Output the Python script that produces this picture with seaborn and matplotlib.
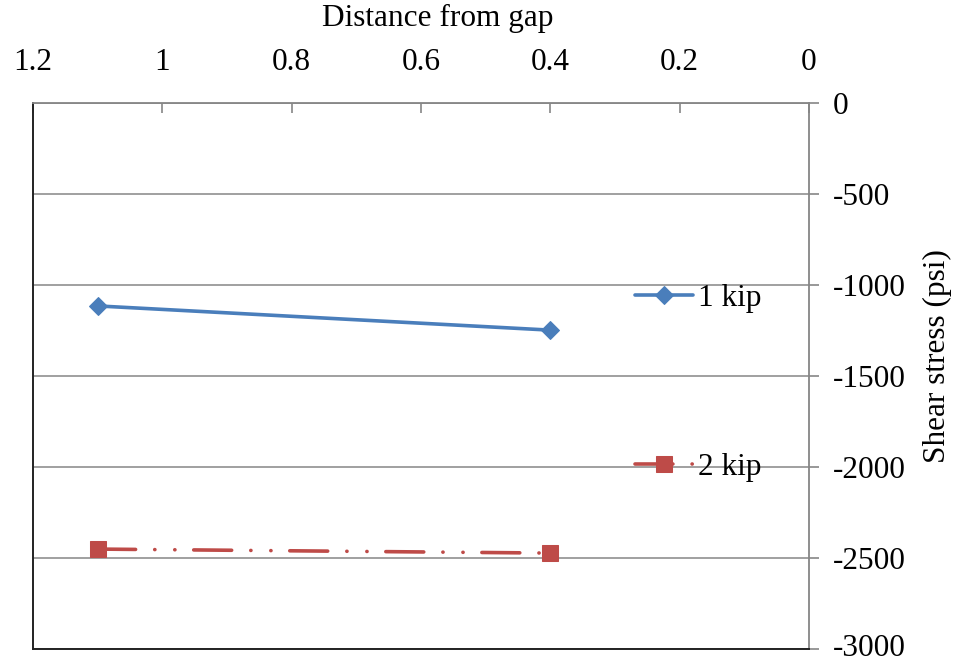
import matplotlib
matplotlib.use("Agg")
import matplotlib.pyplot as plt
import matplotlib.transforms as mtransforms
import seaborn as sns
import pandas as pd

# Data
distance = [1.1, 0.4]
stress_1kip = [-1115, -1248]
stress_2kip = [-2451, -2473]
series_names = ["1 kip", "2 kip"]
x_ticks = [1.2, 1.0, 0.8, 0.6, 0.4, 0.2, 0.0]
x_tick_labels = ["1.2", "1", "0.8", "0.6", "0.4", "0.2", "0"]
y_ticks = [0, -500, -1000, -1500, -2000, -2500, -3000]

sns.set_theme(style="white")
plt.rcParams["font.family"] = ["Liberation Serif", "DejaVu Serif"]
plt.rcParams["text.color"] = "black"
plt.rcParams["axes.labelcolor"] = "black"
plt.rcParams["xtick.labelcolor"] = "black"
plt.rcParams["ytick.labelcolor"] = "black"

df = pd.DataFrame({
    "distance": distance * 2,
    "stress": stress_1kip + stress_2kip,
    "series": [series_names[0]] * 2 + [series_names[1]] * 2,
})

fig = plt.figure(figsize=(9.59, 6.64), dpi=100)
ax = fig.add_axes([33 / 959, 1 - 649 / 664, 776 / 959, 546 / 664])

blue = "#4A7EBB"
red = "#BE4B48"
gray = "#868686"
FS = 22.5
LW = 2.6
DASH = [10.5, 5.3, 0.05, 5.5, 0.05, 5.2]

sns.lineplot(data=df[df.series == series_names[0]], x="distance", y="stress",
             ax=ax, color=blue, marker="D", markersize=9.5, sort=False,
             markeredgecolor=blue, label=series_names[0])
sns.lineplot(data=df[df.series == series_names[1]], x="distance", y="stress",
             ax=ax, color=red, marker="s", markersize=11.5, sort=False,
             markeredgecolor=red, label=series_names[1])
line1, line2 = ax.get_lines()[0], ax.get_lines()[1]
line1.set_linewidth(LW)
line1.set_solid_capstyle("round")
line2.set_linewidth(LW)
line2.set_dashes(DASH)
line2.set_dash_capstyle("round")

ax.set_xlim(1.2, 0)
ax.set_ylim(-3000, 0)
ax.set_xticks(x_ticks)
ax.set_xticklabels(x_tick_labels)
ax.set_yticks(y_ticks)
ax.set_yticklabels([str(v) for v in y_ticks])

ax.xaxis.tick_top()
ax.yaxis.tick_right()
ax.tick_params(axis="x", direction="in", length=7, width=1.2, color=gray,
               labelcolor="black", labelsize=FS, pad=19, top=True, bottom=False)
ax.tick_params(axis="y", direction="out", length=7, width=1.2, color=gray,
               labelcolor="black", labelsize=FS, pad=10, right=True, left=False)

ax.grid(axis="y", color=gray, lw=1.1)
ax.grid(axis="x", visible=False)

for side in ["top", "right"]:
    ax.spines[side].set_color(gray)
    ax.spines[side].set_linewidth(1.3)
for side in ["left", "bottom"]:
    ax.spines[side].set_color("#222222")
    ax.spines[side].set_linewidth(1.4)
for s in ax.spines.values():
    s.set_visible(True)

ax.set_xlabel("Distance from gap", fontsize=FS, color="black")
ax.xaxis.set_label_position("top")
ax.xaxis.set_label_coords((438 - 33) / 776, 1 + (103 - 18) / 546, transform=ax.transAxes)
ax.set_ylabel("Shear stress (psi)", fontsize=FS, rotation=90, color="black")
ax.yaxis.set_label_position("right")
ax.yaxis.set_label_coords((937 - 33) / 776, 1 - (356 - 103) / 546, transform=ax.transAxes)
ax.xaxis.label.set_va("center")
ax.yaxis.label.set_va("center")

# nudge the bottom y tick label up slightly so it stays inside the figure
fig.canvas.draw()
for tick in ax.yaxis.get_major_ticks():
    if tick.get_loc() == -3000:
        lbl = tick.label2
        lbl.set_transform(lbl.get_transform() +
                          mtransforms.ScaledTranslation(0, 3 / 72, fig.dpi_scale_trans))

leg = ax.legend(loc="center left", bbox_to_anchor=(635 / 959, 1 - 383 / 664),
                bbox_transform=fig.transFigure, frameon=False, fontsize=FS,
                borderpad=0, borderaxespad=0, labelspacing=4.5,
                handlelength=1.85, handletextpad=0.15)
for t in leg.get_texts():
    t.set_color("black")
for h in leg.legend_handles:
    h.set_linewidth(LW)
leg.legend_handles[1].set_dashes(DASH)
leg.legend_handles[1].set_dash_capstyle("round")

fig.savefig("out.png", dpi=100)
